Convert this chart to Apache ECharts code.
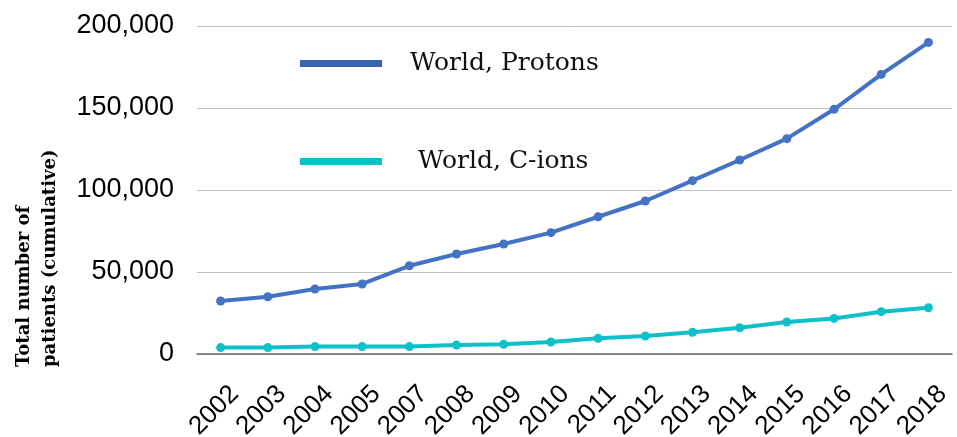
<!DOCTYPE html>
<html>
<head>
<meta charset="utf-8">
<script src="https://cdn.jsdelivr.net/npm/echarts@6/dist/echarts.min.js"></script>
<style>html,body{margin:0;padding:0;background:#fff}#c{width:957px;height:437px}</style>
</head>
<body>
<div id="c"></div>
<script>
const years = ['2002','2003','2004','2005','2007','2008','2009','2010','2011','2012','2013','2014','2015','2016','2017','2018'];
const protons = [32300, 34900, 39600, 42700, 53800, 61000, 67100, 74000, 83700, 93300, 105700, 118300, 131300, 149200, 170500, 190000];
const cions = [3900, 3900, 4500, 4500, 4500, 5500, 5900, 7300, 9600, 11000, 13200, 16000, 19500, 21700, 25800, 28200];
const seriesNames = ['World, Protons', 'World, C-ions'];
const yTitle = 'Total number of\npatients (cumulative)';

const chart = echarts.init(document.getElementById('c'), null, {renderer: 'canvas'});
const blue = '#4472C4', teal = '#0EC1C8';
chart.setOption({
  animation: false,
  grid: {left: 197, right: 5, top: 26, bottom: 83, containLabel: false, outerBoundsMode: 'none'},
  legend: [
    {data: [{name: seriesNames[0], icon: 'rect', itemStyle: {color: '#3A62AD'}}], left: 300, top: 51, padding: 0, itemWidth: 82, itemHeight: 7,
     textStyle: {fontFamily: 'DejaVu Serif', fontSize: 25, color: '#111', padding: [0, 0, 0, 23]}, selectedMode: false},
    {data: [{name: seriesNames[1], icon: 'rect', itemStyle: {color: teal}}], left: 300, top: 149, padding: 0, itemWidth: 82, itemHeight: 7,
     textStyle: {fontFamily: 'DejaVu Serif', fontSize: 25, color: '#111', padding: [0, 0, 0, 31]}, selectedMode: false}
  ],
  xAxis: {
    type: 'category', data: years, boundaryGap: true,
    axisLine: {lineStyle: {color: '#666', width: 1.5}},
    axisTick: {show: false},
    axisLabel: {rotate: 45, margin: 50, interval: 0, padding: [0, -20, 0, 0], fontFamily: 'Liberation Sans', fontSize: 26, color: '#000'}
  },
  yAxis: {
    type: 'value', min: 0, max: 200000, interval: 50000,
    axisLine: {show: false}, axisTick: {show: false},
    splitLine: {lineStyle: {color: '#C0C0C0', width: 1}},
    axisLabel: {margin: 23, fontFamily: 'Liberation Sans', fontSize: 27, color: '#000',
      formatter: v => v.toLocaleString('en-US')}
  },
  graphic: [{
    type: 'text', x: 11, y: 367, rotation: Math.PI / 2,
    style: {text: yTitle, fontFamily: 'DejaVu Serif', fontWeight: 'bold', fontSize: 18, lineHeight: 26,
      fill: '#000', align: 'left', verticalAlign: 'top'}
  }],
  series: [
    {name: seriesNames[0], type: 'line', data: protons, symbol: 'circle', symbolSize: 9,
     lineStyle: {color: blue, width: 4}, itemStyle: {color: blue}},
    {name: seriesNames[1], type: 'line', data: cions, symbol: 'circle', symbolSize: 9,
     lineStyle: {color: teal, width: 4}, itemStyle: {color: teal}}
  ]
});
</script>
</body>
</html>
